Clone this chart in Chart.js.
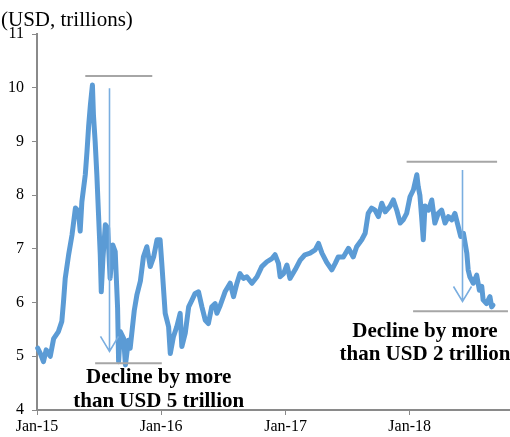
<!DOCTYPE html>
<html lang="en">
<head>
  <meta charset="UTF-8">
  <title>Market capitalisation (USD, trillions)</title>
  <script src="https://cdn.jsdelivr.net/npm/chart.js"></script>
  <style>
    html, body {
      margin: 0;
      padding: 0;
      background: #fff;
      overflow: hidden;
    }
    .chart-wrap {
      position: relative;
      width: 510px;
      height: 437px;
    }
  </style>
</head>
<body>
  <div class="chart-wrap">
    <canvas id="capChart"></canvas>
  </div>

  <script>
    // days counted from 1 Jan 2015
    const dayOffsets = [
      2, 10, 19, 27, 39, 49, 63, 73, 78, 83, 93, 103, 113, 122, 127, 132, 142, 147, 152, 157,
      163, 166, 171, 176, 181, 186, 189, 194, 201, 208, 215, 223, 230, 237, 240, 245, 255, 260, 269, 274,
      280, 286, 294, 304, 313, 323, 333, 343, 353, 362, 367, 377, 387, 392, 401, 411, 421, 426, 436, 446,
      456, 465, 475, 485, 495, 504, 514, 524, 529, 539, 553, 568, 578, 588, 597, 607, 617, 632, 647, 661,
      676, 691, 700, 710, 715, 725, 735, 744, 759, 774, 788, 803, 818, 828, 838, 852, 867, 877, 886, 901,
      916, 930, 940, 955, 965, 974, 984, 994, 1004, 1014, 1024, 1038, 1048, 1058, 1068, 1077, 1087, 1097, 1107, 1117,
      1121, 1126, 1131, 1136, 1141, 1151, 1161, 1170, 1180, 1190, 1200, 1210, 1220, 1229, 1239, 1246, 1254, 1264, 1268, 1273,
      1283, 1293, 1301, 1308, 1312, 1322, 1332, 1337, 1341
    ];
    const values = [
      5.15, 5.05, 4.90, 5.12, 5.00, 5.33, 5.46, 5.65, 6.02, 6.45, 6.89, 7.26, 7.76, 7.70, 7.33, 7.88, 8.38, 8.81, 9.30, 9.68,
      10.05, 9.49, 9.00, 8.38, 7.63, 6.89, 6.20, 6.83, 7.45, 7.39, 6.45, 7.07, 6.95, 5.90, 4.90, 5.46, 5.33, 4.84, 5.30, 5.15,
      5.50, 5.85, 6.15, 6.40, 6.85, 7.04, 6.67, 6.85, 7.17, 7.17, 6.73, 5.80, 5.55, 5.05, 5.36, 5.55, 5.80, 5.18, 5.43, 5.92,
      6.05, 6.17, 6.20, 5.92, 5.67, 5.61, 5.92, 5.98, 5.80, 5.95, 6.20, 6.36, 6.11, 6.36, 6.54, 6.45, 6.48, 6.36, 6.48, 6.67,
      6.76, 6.82, 6.89, 6.73, 6.48, 6.54, 6.70, 6.45, 6.61, 6.79, 6.89, 6.92, 6.98, 7.10, 6.92, 6.75, 6.61, 6.73, 6.85, 6.85,
      7.01, 6.85, 7.04, 7.17, 7.29, 7.66, 7.76, 7.72, 7.60, 7.85, 7.69, 7.79, 7.91, 7.72, 7.48, 7.54, 7.66, 7.97, 8.10, 8.38,
      8.16, 8.00, 7.60, 7.17, 7.80, 7.72, 7.91, 7.48, 7.66, 7.72, 7.48, 7.60, 7.54, 7.66, 7.41, 7.23, 7.29, 6.92, 6.61, 6.48,
      6.36, 6.51, 6.23, 6.30, 6.05, 5.98, 6.11, 5.92, 5.95
    ];

    const tickDays = [0, 365, 731, 1096];
    const tickLabels = ['Jan-15', 'Jan-16', 'Jan-17', 'Jan-18'];

    const yMin = 4;
    const yMax = 11;

    // drop-off callouts, given in axis units: [startDay, endDay, level]
    const callouts = [
      {
        high: [142, 339, 10.22],
        low: [171, 367, 4.87],
        arrow: [213, 9.99, 5.09],
        textDay: 358,
        textLevels: [4.51, 4.06],
        lines: ['Decline by more', 'than USD 5 trillion']
      },
      {
        high: [1087, 1353, 8.62],
        low: [1106, 1385, 5.84],
        arrow: [1249, 8.47, 6.02],
        textDay: 1141,
        textLevels: [5.365, 4.93],
        lines: ['Decline by more', 'than USD 2 trillion']
      }
    ];

    const serif = '"Liberation Serif", "Times New Roman", serif';
    const axisGray = '#8a8a8a';

    const calloutPlugin = {
      id: 'callouts',
      afterDatasetsDraw(chart) {
        const { ctx, scales: { x, y } } = chart;
        ctx.save();

        // unit caption above the value axis
        ctx.fillStyle = '#000';
        ctx.font = '21px ' + serif;
        ctx.textAlign = 'left';
        ctx.textBaseline = 'alphabetic';
        ctx.fillText('(USD, trillions)', 1, 26);

        callouts.forEach(c => {
          ctx.strokeStyle = '#a6a6a6';
          ctx.lineWidth = 2;
          [c.high, c.low].forEach(g => {
            const gy = y.getPixelForValue(g[2]);
            ctx.beginPath();
            ctx.moveTo(x.getPixelForValue(g[0]), gy);
            ctx.lineTo(x.getPixelForValue(g[1]), gy);
            ctx.stroke();
          });

          const ax = Math.round(x.getPixelForValue(c.arrow[0])) + 0.5;
          const y0 = y.getPixelForValue(c.arrow[1]);
          const y1 = y.getPixelForValue(c.arrow[2]);
          ctx.strokeStyle = '#7aaee0';
          ctx.lineWidth = 1.6;
          ctx.beginPath();
          ctx.moveTo(ax, y0);
          ctx.lineTo(ax, y1);
          ctx.moveTo(ax - 9, y1 - 15);
          ctx.lineTo(ax, y1);
          ctx.lineTo(ax + 9, y1 - 15);
          ctx.stroke();

          ctx.fillStyle = '#000';
          ctx.font = 'bold 21px ' + serif;
          ctx.textAlign = 'center';
          const tx = x.getPixelForValue(c.textDay);
          c.lines.forEach((t, i) => ctx.fillText(t, tx, y.getPixelForValue(c.textLevels[i])));
        });

        ctx.restore();
      }
    };

    const ctx = document.getElementById('capChart').getContext('2d');

    new Chart(ctx, {
      type: 'line',
      data: {
        labels: dayOffsets,
        datasets: [{
          data: dayOffsets.map((d, i) => ({ x: d, y: values[i] })),
          borderColor: '#5b9bd5',
          borderWidth: 5,
          pointRadius: 0,
          tension: 0,
          borderJoinStyle: 'round',
          borderCapStyle: 'round',
          clip: false
        }]
      },
      options: {
        responsive: true,
        maintainAspectRatio: false,
        animation: false,
        layout: {
          padding: { top: 34, right: 0, bottom: 0, left: 0 }
        },
        plugins: {
          legend: { display: false },
          tooltip: { enabled: false }
        },
        scales: {
          x: {
            type: 'linear',
            min: 0,
            max: 1391,
            afterBuildTicks: scale => {
              scale.ticks = tickDays.map(v => ({ value: v }));
            },
            afterFit: scale => { scale.height = 27; },
            ticks: {
              autoSkip: false,
              maxRotation: 0,
              padding: 2,
              color: '#000',
              font: { family: serif, size: 16 },
              callback: value => tickLabels[tickDays.indexOf(value)]
            },
            grid: {
              drawOnChartArea: false,
              drawTicks: true,
              tickLength: 5,
              color: axisGray,
              lineWidth: 1
            },
            border: { display: true, color: axisGray, width: 2 }
          },
          y: {
            min: yMin,
            max: yMax,
            afterFit: scale => { scale.width = 37; },
            ticks: {
              stepSize: 1,
              padding: 8,
              color: '#000',
              font: { family: serif, size: 16 }
            },
            grid: {
              drawOnChartArea: false,
              drawTicks: true,
              tickLength: 5,
              color: axisGray,
              lineWidth: 1
            },
            border: { display: true, color: axisGray, width: 2 }
          }
        }
      },
      plugins: [calloutPlugin]
    });
  </script>
</body>
</html>
